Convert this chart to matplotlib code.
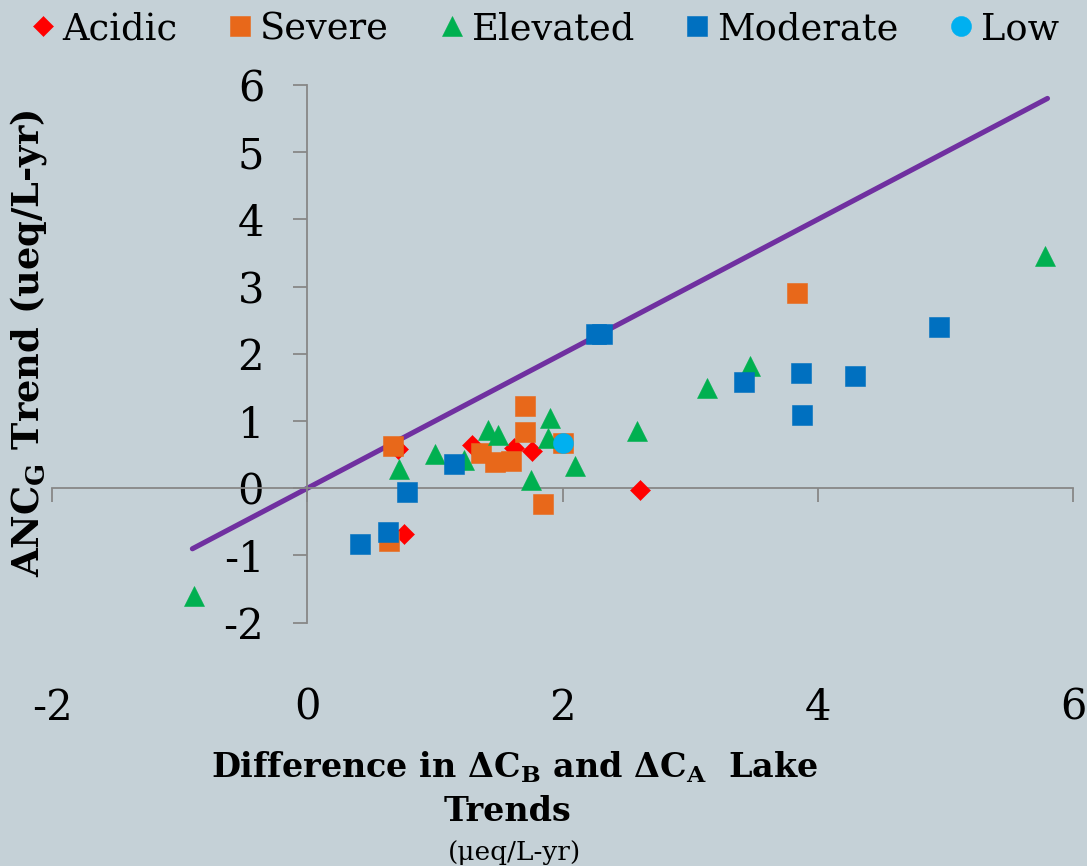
import matplotlib
matplotlib.use("Agg")
import matplotlib.pyplot as plt
from matplotlib.lines import Line2D

# ---------------- data ----------------
categories = ["Acidic", "Severe", "Elevated", "Moderate", "Low"]

acidic_x = [0.71, 0.76, 1.29, 1.62, 1.76, 2.61]
acidic_y = [0.58, -0.68, 0.65, 0.60, 0.56, -0.02]

severe_x = [0.675, 0.64, 1.365, 1.47, 1.60, 1.71, 1.71, 2.00, 1.85, 3.84]
severe_y = [0.63, -0.78, 0.53, 0.39, 0.41, 1.23, 0.84, 0.68, -0.23, 2.91]

elevated_x = [-0.89, 0.72, 1.00, 1.23, 1.42, 1.495, 1.75, 1.90, 1.885, 2.10, 2.58, 3.135, 3.47, 5.78]
elevated_y = [-1.60, 0.29, 0.51, 0.42, 0.86, 0.79, 0.12, 1.05, 0.75, 0.33, 0.85, 1.49, 1.82, 3.46]

moderate_x = [0.41, 0.63, 0.78, 1.15, 2.26, 2.31, 3.42, 3.87, 3.88, 4.29, 4.95]
moderate_y = [-0.83, -0.65, -0.06, 0.36, 2.29, 2.30, 1.58, 1.71, 1.09, 1.67, 2.40]

low_x = [2.00]
low_y = [0.68]

line_x = [-0.9, 5.8]
line_y = [-0.9, 5.8]

x_ticks = [-2, 0, 2, 4, 6]
x_tick_labels = ["-2", "0", "2", "4", "6"]
y_ticks = [-2, -1, 0, 1, 2, 3, 4, 5, 6]
y_tick_labels = ["-2", "-1", "0", "1", "2", "3", "4", "5", "6"]

# ---------------- style ----------------
BG = "#C5D1D7"
AXC = "#878787"
plt.rcParams["font.family"] = ["DejaVu Serif"]
plt.rcParams["mathtext.fontset"] = "custom"
plt.rcParams["mathtext.rm"] = "DejaVu Serif"
plt.rcParams["mathtext.bf"] = "DejaVu Serif:bold"

series = [
    (acidic_x, acidic_y, "D", "#FF0000", 10.2),
    (severe_x, severe_y, "s", "#E8681A", 14.4),
    (elevated_x, elevated_y, "^", "#00B050", 14.0),
    (moderate_x, moderate_y, "s", "#0070C0", 14.4),
    (low_x, low_y, "o", "#00B0F0", 14.4),
]

fig = plt.figure(figsize=(10.87, 8.66), dpi=100, facecolor=BG)
ax = fig.add_axes([52 / 1087, 1 - 622.7 / 866, (1073 - 52) / 1087, (622.7 - 85) / 866])
ax.set_facecolor(BG)

ax.plot(line_x, line_y, color="#7030A0", lw=3.7, solid_capstyle="round", zorder=2)

handles = []
for (xs, ys, mk, col, ms), name in zip(series, categories):
    ax.plot(xs, ys, linestyle="none", marker=mk, markersize=ms, color=col,
            markeredgecolor=col, markeredgewidth=0.4, clip_on=False, zorder=3)
    handles.append(Line2D([], [], linestyle="none", marker=mk, markersize=ms,
                          color=col, markeredgecolor=col, markeredgewidth=0.4, label=name))

ax.set_xlim(-2, 6)
ax.set_ylim(-2, 6)
for s in ["top", "right"]:
    ax.spines[s].set_visible(False)
ax.spines["left"].set_position(("data", 0))
ax.spines["bottom"].set_position(("data", 0))
for s in ["left", "bottom"]:
    ax.spines[s].set_color(AXC)
    ax.spines[s].set_linewidth(1.3)

ax.set_xticks(x_ticks)
ax.set_xticklabels(x_tick_labels)
ax.set_yticks(y_ticks)
ax.set_yticklabels(y_tick_labels)
ax.tick_params(axis="both", direction="out", length=10, width=1.3, color=AXC,
               labelsize=30, labelcolor="black")
ax.tick_params(axis="x", pad=133)
ax.tick_params(axis="y", pad=21)

# axis titles
fig.text(29 / 1087, 1 - 343 / 866, r"ANC$_\mathbf{G}$ Trend (ueq/L-yr)", rotation=90,
         ha="center", va="center", fontsize=26.5, fontweight="bold")
fig.text(515 / 1087, 1 - 777 / 866,
         r"Difference in ΔC$_\mathbf{B}$ and ΔC$_\mathbf{A}$  Lake",
         ha="center", va="baseline", fontsize=24, fontweight="bold")
fig.text(508 / 1087, 1 - 821 / 866, "Trends", ha="center", va="baseline",
         fontsize=24, fontweight="bold")
fig.text(514 / 1087, 1 - 860 / 866, "(μeq/L-yr)", ha="center", va="baseline",
         fontsize=19)

fig.legend(handles=handles, loc="center left", bbox_to_anchor=(31.75 / 1087, 1 - 29 / 866),
           ncol=5, frameon=False, fontsize=26.5, handlelength=0.6, handletextpad=0.24,
           columnspacing=1.4, borderpad=0, borderaxespad=0)

fig.savefig("out.png", dpi=100, facecolor=BG)
